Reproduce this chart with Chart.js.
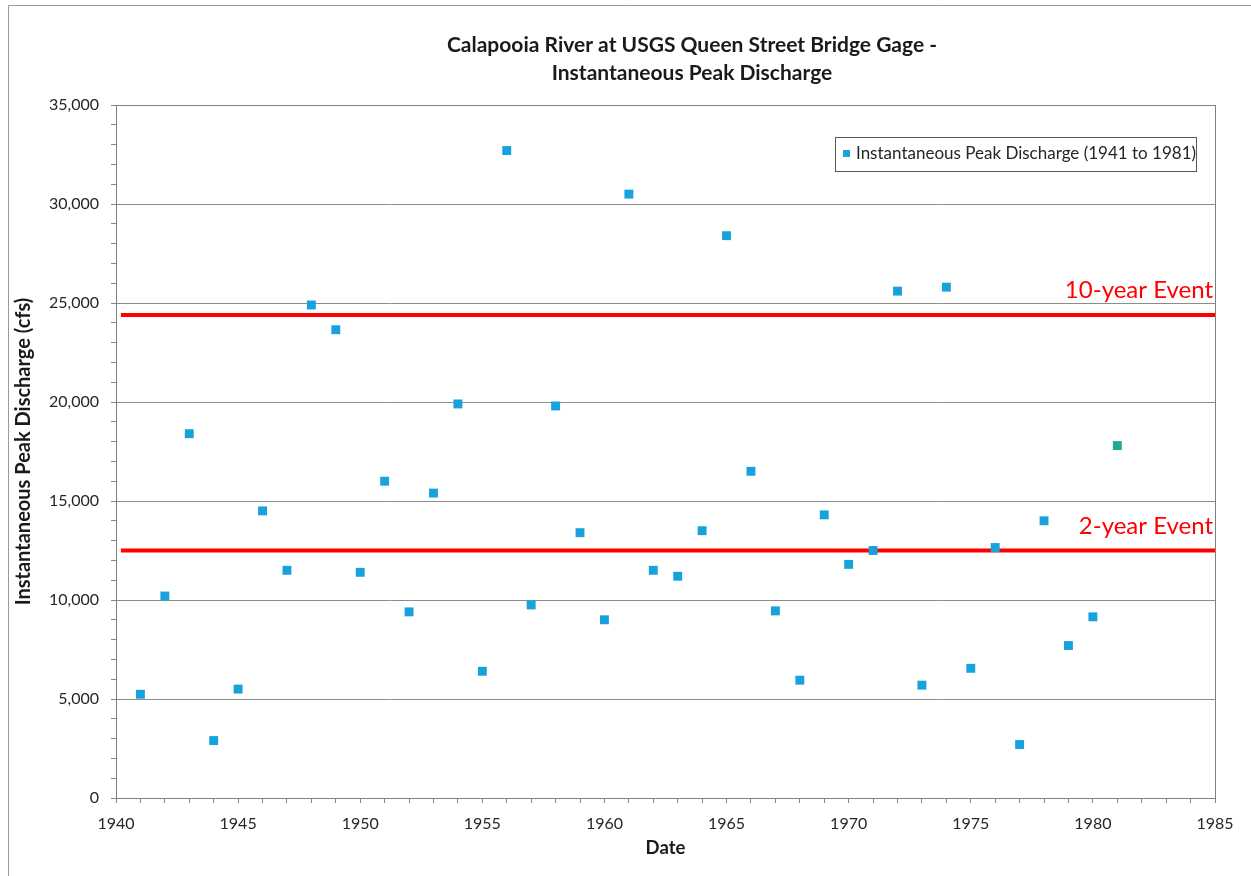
<!DOCTYPE html>
<html lang="en">
<head>
<meta charset="UTF-8">
<title>Calapooia River - Instantaneous Peak Discharge</title>
<script src="https://cdn.jsdelivr.net/npm/chart.js"></script>
<style>
  html, body { margin: 0; padding: 0; background: #fff; }
  canvas { display: block; }
</style>
</head>
<body>
<canvas id="peakChart" width="1251" height="876"></canvas>
<script>
  // data
  const years = [1941, 1942, 1943, 1944, 1945, 1946, 1947, 1948, 1949, 1950,
                 1951, 1952, 1953, 1954, 1955, 1956, 1957, 1958, 1959, 1960,
                 1961, 1962, 1963, 1964, 1965, 1966, 1967, 1968, 1969, 1970,
                 1971, 1972, 1973, 1974, 1975, 1976, 1977, 1978, 1979, 1980, 1981];
  const peaks = [5240, 10200, 18400, 2900, 5500, 14500, 11500, 24900, 23650, 11400,
                 16000, 9400, 15400, 19900, 6400, 32700, 9750, 19800, 13400, 9000,
                 30500, 11500, 11200, 13500, 28400, 16500, 9450, 5950, 14300, 11800,
                 12500, 25600, 5700, 25800, 6550, 12650, 2700, 14000, 7700, 9150, 17800];
  const eventNames = ['10-year Event', '2-year Event'];
  const eventFlows = [24400, 12500];
  const eventSpan = [1940.2, 1985];
  const xTicks = [1940, 1945, 1950, 1955, 1960, 1965, 1970, 1975, 1980, 1985];
  const yTicks = [0, 5000, 10000, 15000, 20000, 25000, 30000, 35000];
  const titleLines = ['Calapooia River at USGS Queen Street Bridge Gage -', 'Instantaneous Peak Discharge'];

  const FONT = 'Lato, "Liberation Sans", sans-serif';
  const BLUE = '#18A2DC';
  const TEAL = '#22A98C';

  const datasets = eventFlows.map((v, i) => ({
    label: eventNames[i],
    type: 'line',
    data: eventSpan.map(x => ({ x: x, y: v })),
    borderColor: '#FF0000',
    borderWidth: 4,
    pointRadius: 0,
    order: 2
  }));
  datasets.push({
    label: 'Instantaneous Peak Discharge (1941 to 1981)',
    data: years.map((y, i) => ({ x: y, y: peaks[i] })),
    pointStyle: 'rect',
    pointRadius: 6.3,
    pointBorderWidth: 0,
    pointBackgroundColor: ctx => ctx.dataIndex === years.length - 1 ? TEAL : BLUE,
    order: 1
  });

  const decorations = {
    id: 'decorations',
    beforeDraw(chart) {
      const c = chart.ctx;
      c.save();
      c.fillStyle = '#fff';
      c.fillRect(0, 0, chart.width, chart.height);
      // outer chart frame (only top and left edges are inside the picture)
      c.strokeStyle = '#9a9a9a';
      c.lineWidth = 1;
      c.beginPath();
      c.moveTo(8.5, chart.height);
      c.lineTo(8.5, 5.5);
      c.lineTo(chart.width, 5.5);
      c.stroke();
      c.restore();
    },
    afterDraw(chart) {
      const c = chart.ctx;
      const a = chart.chartArea;
      const ys = chart.scales.y;
      c.save();
      // plot border
      c.strokeStyle = '#7f7f7f';
      c.lineWidth = 1;
      c.strokeRect(Math.round(a.left) + 0.5, Math.round(a.top) + 0.5,
                   Math.round(a.right - a.left), Math.round(a.bottom - a.top));
      // title
      c.fillStyle = '#1a1a1a';
      c.font = 'bold 21px ' + FONT;
      c.textAlign = 'center';
      c.textBaseline = 'middle';
      titleLines.forEach((t, i) => c.fillText(t, 692, 45 + i * 28));
      // event labels
      c.fillStyle = '#FF0000';
      c.font = '24px ' + FONT;
      c.textAlign = 'right';
      c.textBaseline = 'alphabetic';
      eventFlows.forEach((v, i) => {
        c.fillText(eventNames[i], a.right - 2, ys.getPixelForValue(v) - 17);
      });
      // legend
      const ds = chart.data.datasets[chart.data.datasets.length - 1];
      c.fillStyle = '#fff';
      c.fillRect(835, 137, 361, 34);
      c.strokeStyle = '#595959';
      c.strokeRect(835.5, 137.5, 361, 34);
      c.fillStyle = BLUE;
      c.fillRect(843, 150, 7, 7);
      c.fillStyle = '#262626';
      c.font = '17px ' + FONT;
      c.textAlign = 'left';
      c.textBaseline = 'middle';
      c.fillText(ds.label, 856, 154);
      c.restore();
    }
  };

  new Chart(document.getElementById('peakChart'), {
    type: 'scatter',
    data: { datasets: datasets },
    options: {
      responsive: false,
      animation: false,
      layout: { padding: { left: 8, right: 36, top: 105, bottom: 0 } },
      plugins: { legend: { display: false }, tooltip: { enabled: false }, title: { display: false } },
      scales: {
        x: {
          type: 'linear',
          min: xTicks[0],
          max: xTicks[xTicks.length - 1],
          afterFit: s => { s.height = 78; },
          border: { color: '#868686' },
          grid: { drawOnChartArea: false, drawTicks: true, tickLength: 5, color: '#868686' },
          ticks: {
            stepSize: 1,
            autoSkip: false,
            maxRotation: 0,
            padding: 11,
            color: '#262626',
            font: { family: FONT, size: 16 },
            callback: v => xTicks.includes(v) ? String(v) : ''
          },
          title: {
            display: true,
            text: 'Date',
            color: '#1a1a1a',
            font: { family: FONT, size: 18.5, weight: 'bold' },
            padding: { top: 4, bottom: 17 }
          }
        },
        y: {
          min: yTicks[0],
          max: yTicks[yTicks.length - 1],
          afterFit: s => { s.width = 108; },
          border: { color: '#868686' },
          grid: {
            color: ctx => ctx.tick && yTicks.includes(ctx.tick.value) ? '#8c8c8c' : 'rgba(0,0,0,0)',
            tickColor: '#868686',
            tickLength: 5
          },
          ticks: {
            stepSize: 1000,
            autoSkip: false,
            padding: 12,
            color: '#262626',
            font: { family: FONT, size: 16 },
            callback: v => yTicks.includes(v) ? v.toLocaleString('en-US') : ''
          },
          title: {
            display: true,
            text: 'Instantaneous Peak Discharge (cfs)',
            color: '#1a1a1a',
            font: { family: FONT, size: 20, weight: 'bold' },
            padding: { top: 4, bottom: 4 }
          }
        }
      }
    },
    plugins: [decorations]
  });
</script>
</body>
</html>
